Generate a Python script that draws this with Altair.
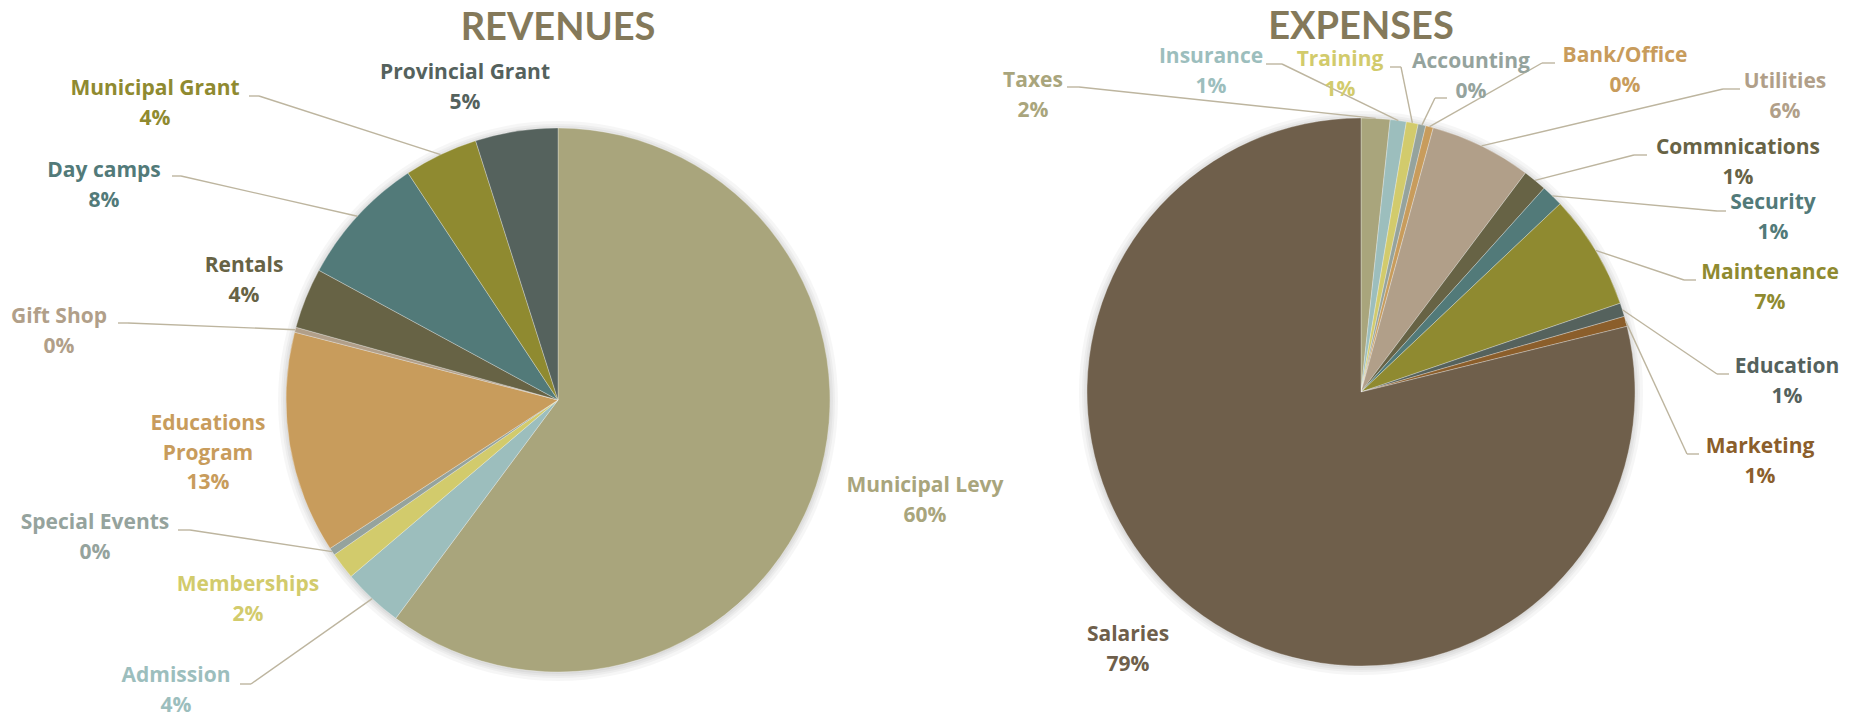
import altair as alt
import pandas as pd

# ---------------- DATA ----------------
rev_categories = ["Municipal Levy", "Admission", "Memberships", "Special Events",
                  "Educations Program", "Gift Shop", "Rentals", "Day camps",
                  "Municipal Grant", "Provincial Grant"]
rev_values = [60.2, 3.6, 1.6, 0.45, 13.2, 0.3, 3.6, 7.8, 4.4, 4.9]

exp_categories = ["Taxes", "Insurance", "Training", "Accounting", "Bank/Office",
                  "Utilities", "Commnications", "Security", "Maintenance",
                  "Education", "Marketing", "Salaries"]
exp_values = [1.7, 0.95, 0.7, 0.45, 0.45, 6.0, 1.4, 1.3, 6.8, 0.8, 0.6, 78.85]

titles = ["REVENUES", "EXPENSES"]

# ---------------- STYLE ----------------
rev_colors = ["#A9A57C", "#9CBEBD", "#D2CB6C", "#95A39D", "#C89C5C",
              "#B19F89", "#676345", "#527A79", "#8F8A30", "#55625D"]
exp_colors = ["#A9A57C", "#9CBEBD", "#D2CB6C", "#95A39D", "#C89C5C",
              "#B19F89", "#676345", "#527A79", "#8F8A30", "#55625D",
              "#8B5E2B", "#6F5F4B"]
title_color = "#84795A"
leader_color = "#BDB59F"
FONT = "Open Sans"
TITLE_FONT = "Lato"
LABEL_SIZE = 21
LINE_H = 29.5

# ---------------- LAYOUT ----------------
W, H = 1855, 718
rev_center, rev_R = (558, 400), 272
exp_center, exp_R = (1361, 392), 274
title_pos = [(558, 29), (1361, 28)]
wrap = {"Educations Program": "Educations\nProgram"}

# label positions: x centre, y of the first line
rev_label_pos = {
    "Municipal Levy": (925, 486), "Admission": (176, 676), "Memberships": (248, 585),
    "Special Events": (95, 523), "Educations Program": (208, 424),
    "Gift Shop": (59, 317), "Rentals": (244, 266), "Day camps": (104, 171),
    "Municipal Grant": (155, 89), "Provincial Grant": (465, 73),
}
exp_label_pos = {
    "Taxes": (1033, 81), "Insurance": (1211, 57), "Training": (1340, 60),
    "Accounting": (1471, 62), "Bank/Office": (1625, 56), "Utilities": (1785, 82),
    "Commnications": (1738, 148), "Security": (1773, 203), "Maintenance": (1770, 273),
    "Education": (1787, 367), "Marketing": (1760, 447), "Salaries": (1128, 635),
}
# leader lines: label end (ax, ay) -> elbow (bx, by) -> slice edge (computed)
rev_leaders = {
    "Admission": (240, 684, 251, 684),
    "Special Events": (178, 530, 190, 530),
    "Gift Shop": (118, 323, 128, 323),
    "Day camps": (172, 176, 181, 176),
    "Municipal Grant": (249, 96, 259, 96),
}
exp_leaders = {
    "Taxes": (1067, 87, 1079, 87),
    "Insurance": (1266, 64, 1282, 64),
    "Training": (1390, 67, 1401, 67),
    "Accounting": (1447, 98, 1435, 98),
    "Bank/Office": (1555, 63, 1542, 63),
    "Utilities": (1740, 89, 1723, 89),
    "Commnications": (1647, 155, 1634, 155),
    "Security": (1726, 211, 1717, 211),
    "Maintenance": (1696, 280, 1684, 280),
    "Education": (1729, 374, 1717, 374),
    "Marketing": (1699, 454, 1687, 454),
}
shadow_offsets = [1, 3, 5, 8]


def make_pie(cats, vals, colors, center, R, label_pos, leaders):
    cx, cy = center
    rows = []
    for i, (c, v) in enumerate(zip(cats, vals)):
        lx, ly = label_pos[c]
        ld = leaders.get(c)
        rows.append({
            "cat": c, "value": v, "idx": i, "name": wrap.get(c, c),
            "lx": lx, "ly": ly,
            "ax": ld[0] if ld else None, "ay": ld[1] if ld else None,
            "bx": ld[2] if ld else None, "by": ld[3] if ld else None,
        })
    df = pd.DataFrame(rows)
    cscale = alt.Scale(domain=cats, range=colors)

    shadows = [
        alt.Chart(pd.DataFrame({"k": [0]})).mark_arc(
            theta=0, theta2=6.2832, radius=R + o, color="#000000", opacity=0.035
        ).encode(x=alt.value(cx), y=alt.value(cy + 1))
        for o in shadow_offsets
    ]

    arcs = alt.Chart(df).mark_arc(radius=R, stroke="#FFFFFF", strokeWidth=0.3).encode(
        theta=alt.Theta("value:Q", stack=True),
        color=alt.Color("cat:N", scale=cscale, legend=None),
        order=alt.Order("idx:Q"),
        x=alt.value(cx), y=alt.value(cy),
    )

    base = alt.Chart(df).transform_joinaggregate(
        total="sum(value)"
    ).transform_window(
        cum="sum(value)", sort=[alt.SortField("idx")], frame=[None, 0]
    ).transform_calculate(
        mid="(datum.cum - datum.value / 2) / datum.total * 2 * PI",
        ex=f"{cx} + {R} * sin(datum.mid)",
        ey=f"{cy} - {R} * cos(datum.mid)",
        pct="round(datum.value / datum.total * 100) + '%'",
    )
    lead = base.transform_filter("isValid(datum.ax)")
    rule1 = lead.mark_rule(color=leader_color, strokeWidth=1.4).encode(
        x=alt.X("ex:Q", scale=None), y=alt.Y("ey:Q", scale=None),
        x2="bx:Q", y2="by:Q",
    )
    rule2 = lead.mark_rule(color=leader_color, strokeWidth=1.4).encode(
        x=alt.X("bx:Q", scale=None), y=alt.Y("by:Q", scale=None),
        x2="ax:Q", y2="ay:Q",
    )
    text = base.transform_calculate(
        lab="datum.name + '\\n' + datum.pct"
    ).mark_text(
        font=FONT, fontSize=LABEL_SIZE, fontWeight="bold", lineBreak="\n",
        lineHeight=LINE_H, align="center", baseline="middle",
    ).encode(
        x=alt.X("lx:Q", scale=None), y=alt.Y("ly:Q", scale=None),
        text="lab:N",
        color=alt.Color("cat:N", scale=cscale, legend=None),
    )
    return shadows + [arcs, rule1, rule2, text]


rev_layers = make_pie(rev_categories, rev_values, rev_colors, rev_center, rev_R,
                      rev_label_pos, rev_leaders)
exp_layers = make_pie(exp_categories, exp_values, exp_colors, exp_center, exp_R,
                      exp_label_pos, exp_leaders)

tdf = pd.DataFrame({"t": titles, "x": [p[0] for p in title_pos], "y": [p[1] for p in title_pos]})
title_layer = alt.Chart(tdf).mark_text(
    font=TITLE_FONT, fontSize=38, fontWeight="bold", color=title_color,
    align="center", baseline="middle",
).encode(x=alt.X("x:Q", scale=None), y=alt.Y("y:Q", scale=None), text="t:N")

chart = alt.layer(*rev_layers, *exp_layers, title_layer).resolve_scale(
    theta="independent", color="independent"
).properties(
    width=W, height=H, padding=0, autosize=alt.AutoSizeParams(type="none"),
    background="#FFFFFF",
).configure_view(stroke=None)

chart.save("out.html", embed_options={"renderer": "svg", "actions": False})
